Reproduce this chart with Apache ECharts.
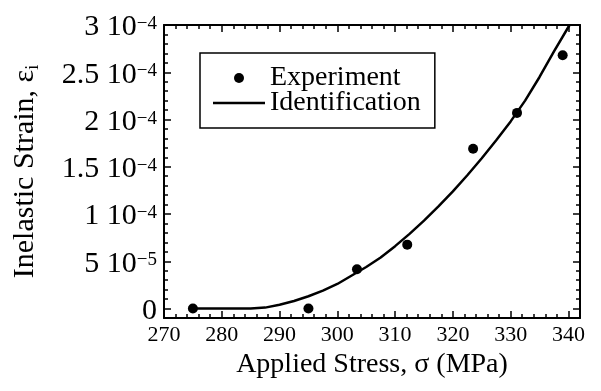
<!DOCTYPE html>
<html>
<head>
<meta charset="utf-8">
<script src="https://cdn.jsdelivr.net/npm/echarts@6/dist/echarts.min.js"></script>
<style>
  html, body { margin: 0; padding: 0; background: #fff; }
  #chart { width: 601px; height: 391px; }
</style>
</head>
<body>
<div id="chart"></div>
<script>
// Measured inelastic strain versus applied stress
var expStress = [275, 295, 303.4, 312.1, 323.5, 331.1, 339.0];
var expStrain = [0, 0, 4.15e-5, 6.76e-5, 1.69e-4, 2.07e-4, 2.68e-4];

// Identified model curve
var fitStress = [275, 280, 285, 287.5, 290, 292.5, 295, 297.5, 300, 302.5, 305, 307.5,
                 310, 312.5, 315, 317.5, 320, 322.5, 325, 327.5, 330, 332.5, 335, 337.5, 340.2];
var fitStrain = [0, 0, 0, 0.1e-5, 0.4e-5, 0.8e-5, 1.3e-5, 1.9e-5, 2.6e-5, 3.5e-5, 4.4e-5, 5.4e-5,
                 6.6e-5, 7.9e-5, 9.3e-5, 10.8e-5, 12.4e-5, 14.1e-5, 15.9e-5, 17.8e-5, 19.8e-5, 22.0e-5,
                 24.5e-5, 27.2e-5, 30.0e-5];

// Axis ticks and labels
var xMajorTicks = [270, 280, 290, 300, 310, 320, 330, 340];
var yMajorTicks = [0, 5e-5, 1e-4, 1.5e-4, 2e-4, 2.5e-4, 3e-4];
var yTickMantissa = ['0', '5', '1', '1.5', '2', '2.5', '3'];
var yTickExponent = ['', '\u22125', '\u22124', '\u22124', '\u22124', '\u22124', '\u22124'];

var FONT = "'Liberation Serif', 'Times New Roman', serif";
var X_MIN = 270, X_MAX = 342, Y_MIN = -1e-5, Y_MAX = 3e-4;

function pairs(xs, ys) {
  return xs.map(function (x, i) { return [x, ys[i]]; });
}

function yLabel(v) {
  for (var i = 0; i < yMajorTicks.length; i++) {
    if (Math.abs(v - yMajorTicks[i]) < 1e-9) {
      if (!yTickExponent[i]) return '{m|' + yTickMantissa[i] + '}';
      return '{m|' + yTickMantissa[i] + ' 10}{e|' + yTickExponent[i] + '}';
    }
  }
  return '';
}

var lineCol = '#000';

function xAxisDef(pos, major, withLabels) {
  var a = {
    type: 'value', position: pos, min: X_MIN, max: X_MAX, interval: 2,
    splitLine: { show: false },
    axisLine: { show: !major, onZero: false, lineStyle: { color: lineCol, width: 2 } },
    axisTick: { show: true, inside: true, length: major ? 7 : 4, lineStyle: { color: lineCol, width: 1.5 } },
    axisLabel: { show: false }
  };
  if (major) a.axisTick.customValues = xMajorTicks;
  if (withLabels) {
    a.axisLabel = {
      show: true, customValues: xMajorTicks, margin: 6,
      fontFamily: FONT, fontSize: 22, color: '#000'
    };
    a.name = 'Applied Stress, σ (MPa)';
    a.nameLocation = 'middle';
    a.nameGap = 32;
    a.nameTextStyle = { fontFamily: FONT, fontSize: 28, color: '#000' };
  }
  return a;
}

function yAxisDef(pos, major, withLabels) {
  var a = {
    type: 'value', position: pos, min: Y_MIN, max: Y_MAX, interval: 1e-5,
    splitLine: { show: false },
    axisLine: { show: !major, onZero: false, lineStyle: { color: lineCol, width: 2 } },
    axisTick: { show: true, inside: true, length: major ? 7 : 4, lineStyle: { color: lineCol, width: 1.5 } },
    axisLabel: { show: false }
  };
  if (major) a.axisTick.customValues = yMajorTicks;
  if (withLabels) {
    a.axisLabel = {
      show: true, customValues: yMajorTicks, margin: 7,
      padding: [7, 0, 0, 0],
      formatter: yLabel,
      rich: {
        m: { fontFamily: FONT, fontSize: 30, color: '#000', lineHeight: 28, verticalAlign: 'bottom' },
        e: { fontFamily: FONT, fontSize: 19, color: '#000', lineHeight: 17, verticalAlign: 'top' }
      }
    };
    a.name = '{n|Inelastic Strain, ε}{s|i}';
    a.nameLocation = 'middle';
    a.nameGap = 122;
    a.nameTextStyle = {
      fontFamily: FONT, fontSize: 30, color: '#000',
      rich: {
        n: { fontFamily: FONT, fontSize: 30, color: '#000', lineHeight: 34, verticalAlign: 'middle' },
        s: { fontFamily: FONT, fontSize: 18, color: '#000', lineHeight: 14, verticalAlign: 'bottom' }
      }
    };
  }
  return a;
}

var chart = echarts.init(document.getElementById('chart'), null, { renderer: 'canvas' });
chart.setOption({
  backgroundColor: '#fff',
  animation: false,
  grid: { left: 164, right: 21, top: 25, bottom: 73, containLabel: false },
  xAxis: [
    xAxisDef('bottom', false, true),
    xAxisDef('bottom', true, false),
    xAxisDef('top', false, false),
    xAxisDef('top', true, false)
  ],
  yAxis: [
    yAxisDef('left', false, true),
    yAxisDef('left', true, false),
    yAxisDef('right', false, false),
    yAxisDef('right', true, false)
  ],
  legend: {
    left: 200, top: 53, orient: 'vertical',
    borderColor: '#000', borderWidth: 1.5,
    padding: [11, 14, 11, 13],
    itemWidth: 52, itemHeight: 10, itemGap: -3,
    textStyle: { fontFamily: FONT, fontSize: 28, lineHeight: 25, color: '#000' },
    data: [
      { name: 'Experiment', icon: 'circle' },
      { name: 'Identification', icon: 'path://M0,0h52v2.5h-52z', symbolKeepAspect: true }
    ]
  },
  series: [
    {
      name: 'Identification', type: 'line',
      xAxisIndex: 0, yAxisIndex: 0,
      data: pairs(fitStress, fitStrain),
      showSymbol: false, symbol: 'none',
      smooth: false,
      lineStyle: { color: '#000', width: 2.5 },
      itemStyle: { color: '#000' },
      z: 3
    },
    {
      name: 'Experiment', type: 'scatter',
      xAxisIndex: 0, yAxisIndex: 0,
      data: pairs(expStress, expStrain),
      symbol: 'circle', symbolSize: 10,
      itemStyle: { color: '#000', opacity: 1 },
      z: 4
    }
  ]
});
</script>
</body>
</html>
